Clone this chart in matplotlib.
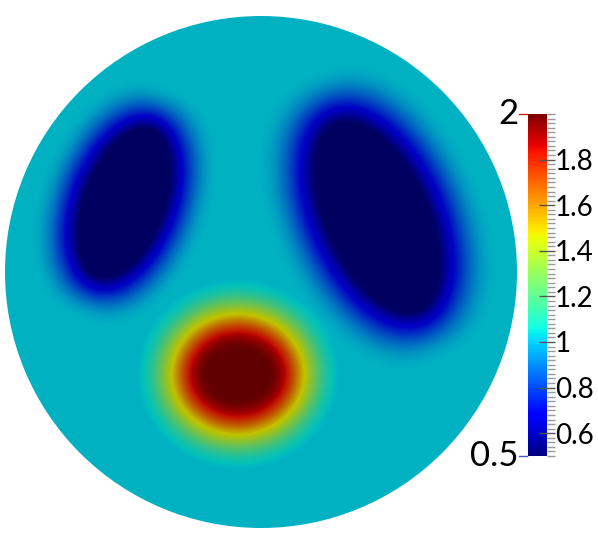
import numpy as np
import matplotlib
matplotlib.use("Agg")
import matplotlib.pyplot as plt
from matplotlib.colors import ListedColormap, Normalize
from matplotlib.patches import Circle
from matplotlib.ticker import MultipleLocator

# field: background value plus three smoothed inclusions (disk = unit circle)
background = 1.0
blob_cx = [-0.535, 0.454, -0.09]
blob_cy = [0.27, 0.215, -0.40]
blob_a = [0.18, 0.228, 0.258]      # semi-axis along x' at the mid contour
blob_b = [0.33, 0.428, 0.235]      # semi-axis along y'
blob_angle = [-20.0, 24.0, 0.0]    # degrees, tilt of the y' axis from vertical
blob_amp = [-0.8, -0.8, 1.0]
blob_width = [0.16, 0.19, 0.148]   # half width of the smooth edge

vmin, vmax = 0.5, 2.0
major_ticks = [0.6, 0.8, 1.0, 1.2, 1.4, 1.6, 1.8]
major_labels = ["0.6", "0.8", "1", "1.2", "1.4", "1.6", "1.8"]

n = 900
xs = np.linspace(-1, 1, n)
X, Y = np.meshgrid(xs, xs)
F = np.full_like(X, background)
for cx, cy, a, b, ang, amp, w in zip(blob_cx, blob_cy, blob_a, blob_b,
                                     blob_angle, blob_amp, blob_width):
    t = np.deg2rad(ang)
    dx, dy = X - cx, Y - cy
    u = dx * np.cos(t) + dy * np.sin(t)
    v = -dx * np.sin(t) + dy * np.cos(t)
    d = np.sqrt((u / a) ** 2 + (v / b) ** 2)
    grad = np.sqrt((u / a ** 2) ** 2 + (v / b ** 2) ** 2) / np.maximum(d, 1e-9)
    dist = (d - 1) / np.maximum(grad, 1e-9)   # approx. distance to the ellipse
    s = np.clip((dist + w) / (2 * w), 0, 1)
    F += amp * 0.5 * (1 + np.cos(np.pi * s))

# the disk is rendered with lighting, so its colours are a darker jet
jet = plt.get_cmap("jet")
shade = jet(np.linspace(0, 1, 256))
shade[:, 1] = np.minimum(1.0, shade[:, 1] * 1.1)
shade[:, :3] *= 0.76
disk_cmap = ListedColormap(shade)
norm = Normalize(vmin, vmax)

fig = plt.figure(figsize=(5.98, 5.45), dpi=100)
W, H = 598, 545
cx_px, cy_px, r_px = 261, 272, 256
ax = fig.add_axes([(cx_px - r_px) / W, (H - cy_px - r_px) / H, 2 * r_px / W, 2 * r_px / H])
im = ax.imshow(F, cmap=disk_cmap, norm=norm, origin="lower",
               extent=[-1, 1, -1, 1], interpolation="bilinear")
clip = Circle((0, 0), 1.0, transform=ax.transData)
im.set_clip_path(clip)
ax.set_xlim(-1, 1)
ax.set_ylim(-1, 1)
ax.axis("off")

# colorbar
cax = fig.add_axes([528 / W, (H - 456) / H, 19 / W, 342 / H])
sm = matplotlib.cm.ScalarMappable(norm=norm, cmap=jet)
cb = fig.colorbar(sm, cax=cax)
cb.outline.set_visible(False)
cb.set_ticks(major_ticks)
cb.set_ticklabels(major_labels)
cax.yaxis.set_minor_locator(MultipleLocator(0.02))
cax.tick_params(which="major", direction="inout", length=11.5, width=1.0,
                color="#555555", labelsize=20, pad=0)
cax.tick_params(which="minor", direction="out", length=5.8, width=1.0,
                color="#999999")
for lab in cax.get_yticklabels():
    lab.set_family("Lato")

cax.text(-0.5, vmax, "2", ha="right", va="center", fontsize=25,
         family="Lato", transform=cax.get_yaxis_transform())
cax.text(-0.5, vmin, "0.5", ha="right", va="center", fontsize=25,
         family="Lato", transform=cax.get_yaxis_transform())
cax.plot([-0.45, -0.05], [vmax, vmax], color="#cc2222", lw=1,
         transform=cax.get_yaxis_transform(), clip_on=False)
cax.plot([-0.45, -0.05], [vmin, vmin], color="#5555cc", lw=1,
         transform=cax.get_yaxis_transform(), clip_on=False)

fig.savefig("out.png", dpi=100)
